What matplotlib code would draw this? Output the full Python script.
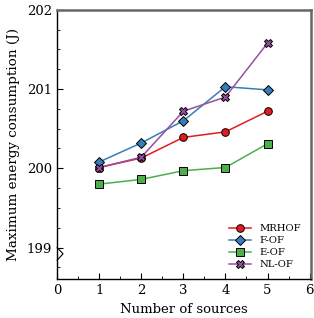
import matplotlib
matplotlib.use("Agg")
import matplotlib.pyplot as plt
from matplotlib.ticker import MultipleLocator

plt.rcParams['font.family'] = ['DejaVu Serif']
plt.rcParams['mathtext.fontset'] = 'dejavuserif'

sources = [1, 2, 3, 4, 5]
mrhof = [200.01, 200.13, 200.39, 200.46, 200.72]
fof = [200.08, 200.32, 200.60, 201.03, 200.99]
eof = [199.80, 199.86, 199.97, 200.01, 200.31]
nlof = [200.01, 200.14, 200.72, 200.90, 201.58]

series = [
    ("MRHOF", mrhof, "#e41a1c", "o"),
    ("F-OF", fof, "#377eb8", "D"),
    ("E-OF", eof, "#4daf4a", "s"),
    ("NL-OF", nlof, "#984ea3", "X"),
]

fig = plt.figure(figsize=(3.14, 3.18), dpi=100)
ax = fig.add_axes([0.182, 0.122, 0.808, 0.847])

for name, vals, col, mk in series:
    ax.plot(sources, vals, color=col, marker=mk, markersize=5.5 if mk != "D" else 5,
            markeredgecolor="black", markeredgewidth=0.7, linewidth=1.1, label=name)

# axis break chevron
ax.plot([0, 0.14, 0], [199.0, 198.92, 198.84], color="black", linewidth=0.8, clip_on=False)

ax.set_xlim(0, 6.03)
ax.set_ylim(198.6, 202)
ax.xaxis.set_major_locator(MultipleLocator(1))
ax.xaxis.set_minor_locator(MultipleLocator(0.5))
ax.yaxis.set_major_locator(MultipleLocator(1))
ax.yaxis.set_minor_locator(MultipleLocator(0.25))
ax.tick_params(which="both", direction="in", top=False, right=False, labelsize=9.5)
ax.tick_params(which="major", length=4)
ax.tick_params(which="minor", length=2.5)

for s in ["top", "right"]:
    ax.spines[s].set_color("#666666")
    ax.spines[s].set_linewidth(1.8)
for s in ["left", "bottom"]:
    ax.spines[s].set_linewidth(1.0)

ax.set_xlabel("Number of sources", fontsize=9.5)
ax.set_ylabel("Maximum energy consumption (J)", fontsize=9.7, labelpad=5)

ax.legend(loc="lower right", frameon=False, fontsize=7.2, handlelength=2.2,
          labelspacing=0.3, borderaxespad=0.6)

fig.savefig("out.png", dpi=100)
